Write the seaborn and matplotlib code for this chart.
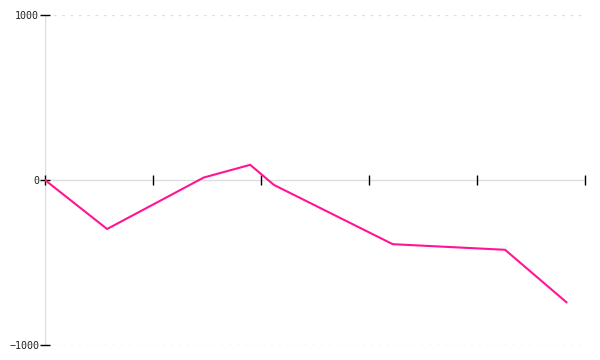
import matplotlib
matplotlib.use("Agg")
import matplotlib.pyplot as plt
import seaborn as sns
import pandas as pd

x_values = [0.0, 0.575, 1.47, 1.90, 2.12, 3.22, 4.26, 4.83]
y_values = [0, -297, 15, 92, -30, -389, -423, -742]
y_ticks = [-1000, 0, 1000]
y_tick_labels = ["\u22121000", "0", "1000"]
x_ticks = [0, 1, 2, 3, 4, 5]

sns.set_theme(style="white")
plt.rcParams['font.family'] = ['DejaVu Sans Mono']

df = pd.DataFrame({"x": x_values, "y": y_values})

fig = plt.figure(figsize=(6, 3.6), dpi=100)
ax = fig.add_axes([45/600, 1-345/360, 540/600, 330/360])

for g in (1000, -1000):
    ax.axhline(g, color="#dddddd", lw=1, ls=(0, (2, 4)), zorder=0)
ax.axhline(0, color="#dddddd", lw=1, zorder=0)
ax.axvline(0, color="#dddddd", lw=1, zorder=0)

sns.lineplot(data=df, x="x", y="y", ax=ax, color="#ff1493", lw=1.5, zorder=3)

ax.set_xlim(0, 5)
ax.set_ylim(-1000, 1000)
for s in ax.spines.values():
    s.set_visible(False)

ax.set_yticks(y_ticks)
ax.set_yticklabels(y_tick_labels, fontsize=7.2, color="#222222")
ax.tick_params(axis="y", direction="inout", length=6.5, width=1, color="black", pad=1, left=True)

ax.set_xticks(x_ticks)
ax.set_xticklabels([])
ax.tick_params(axis="x", direction="inout", length=6.5, width=1, color="black", bottom=True)
ax.xaxis.set_ticks_position("bottom")
ax.spines["bottom"].set_position(("data", 0))
ax.set_xlabel("")
ax.set_ylabel("")

fig.savefig("out.png", dpi=100)
